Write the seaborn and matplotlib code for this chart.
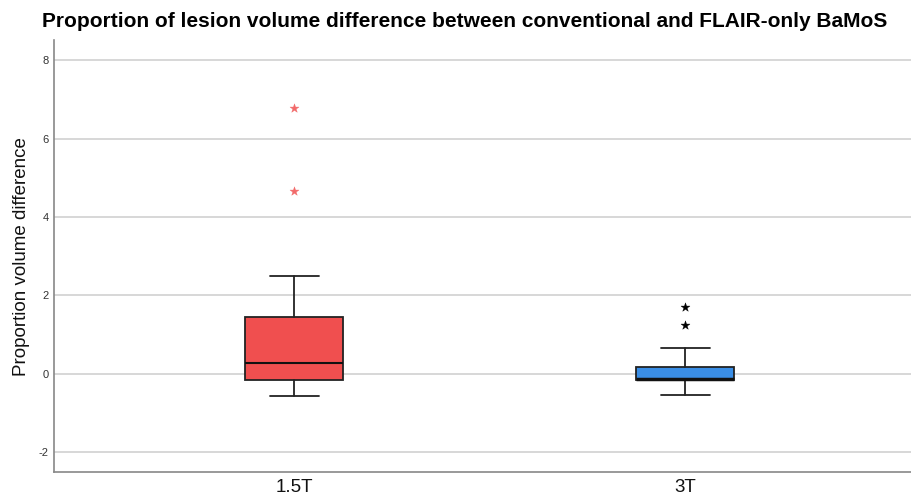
import matplotlib
matplotlib.use("Agg")
import matplotlib.pyplot as plt
import seaborn as sns
import pandas as pd

# data
groups = ["1.5T", "3T"]
whis_low = [-0.56, -0.54]
q1 = [-0.17, -0.17]
median = [0.26, -0.13]
q3 = [1.45, 0.16]
whis_high = [2.49, 0.66]
outliers_15 = [4.66, 6.78]
outliers_3 = [1.24, 1.69]
box_colors = ["#f04f4f", "#3a8ee6"]
outlier_colors = ["#f26a6a", "#000000"]

sns.set_style("white")
plt.rcParams["font.family"] = ["Liberation Sans", "DejaVu Sans"]
plt.rcParams["axes.unicode_minus"] = False

fig = plt.figure(figsize=(9.12, 4.98), dpi=100)
ax = fig.add_axes([0.0592, 0.0516, 0.9408, 0.8681])

stats = []
for i in range(len(groups)):
    stats.append(dict(whislo=whis_low[i], q1=q1[i], med=median[i], q3=q3[i],
                      whishi=whis_high[i], fliers=[]))

bp = ax.bxp(stats, positions=range(len(groups)), widths=0.25, patch_artist=True,
            showfliers=False,
            boxprops=dict(edgecolor="#222222", linewidth=1.3),
            medianprops=dict(color="#111111", linewidth=1.5),
            whiskerprops=dict(color="#222222", linewidth=1.3),
            capprops=dict(color="#222222", linewidth=1.3),
            zorder=3)
for patch, c in zip(bp["boxes"], box_colors):
    patch.set_facecolor(c)
# 3T median sits almost on Q1, looks like a thick black bar
bp["medians"][1].set_linewidth(2.5)

# outliers as asterisks
out = pd.DataFrame({
    "group": [0] * len(outliers_15) + [1] * len(outliers_3),
    "value": outliers_15 + outliers_3,
})
for i, c in enumerate(outlier_colors):
    sub = out[out["group"] == i]
    sns.scatterplot(data=sub, x="group", y="value", marker="*", s=45,
                    color=c, edgecolor=c, linewidth=0.3, ax=ax, zorder=4)

ax.set_xlim(-0.614, 1.58)
ax.set_ylim(-2.52, 8.52)
ax.set_yticks([-2, 0, 2, 4, 6, 8])
ax.set_xticks(range(len(groups)))
ax.set_xticklabels(groups, fontsize=13.5, color="#111111")
ax.tick_params(axis="y", labelsize=8, length=0, pad=4, labelcolor="#333333")
ax.tick_params(axis="x", length=0, pad=5)
ax.yaxis.grid(True, color="#d4d4d4", linewidth=1.3, zorder=0)
ax.set_axisbelow(True)
for s in ["top", "right"]:
    ax.spines[s].set_visible(False)
for s in ["left", "bottom"]:
    ax.spines[s].set_color("#888888")
    ax.spines[s].set_linewidth(1.2)

ax.set_xlabel("")
ax.set_ylabel("Proportion volume difference", fontsize=13.5, labelpad=6, color="#111111")
fig.suptitle("Proportion of lesion volume difference between conventional and FLAIR-only BaMoS",
             fontsize=15, fontweight="bold", x=0.51, y=0.975, color="black")

fig.savefig("out.png", dpi=100)
